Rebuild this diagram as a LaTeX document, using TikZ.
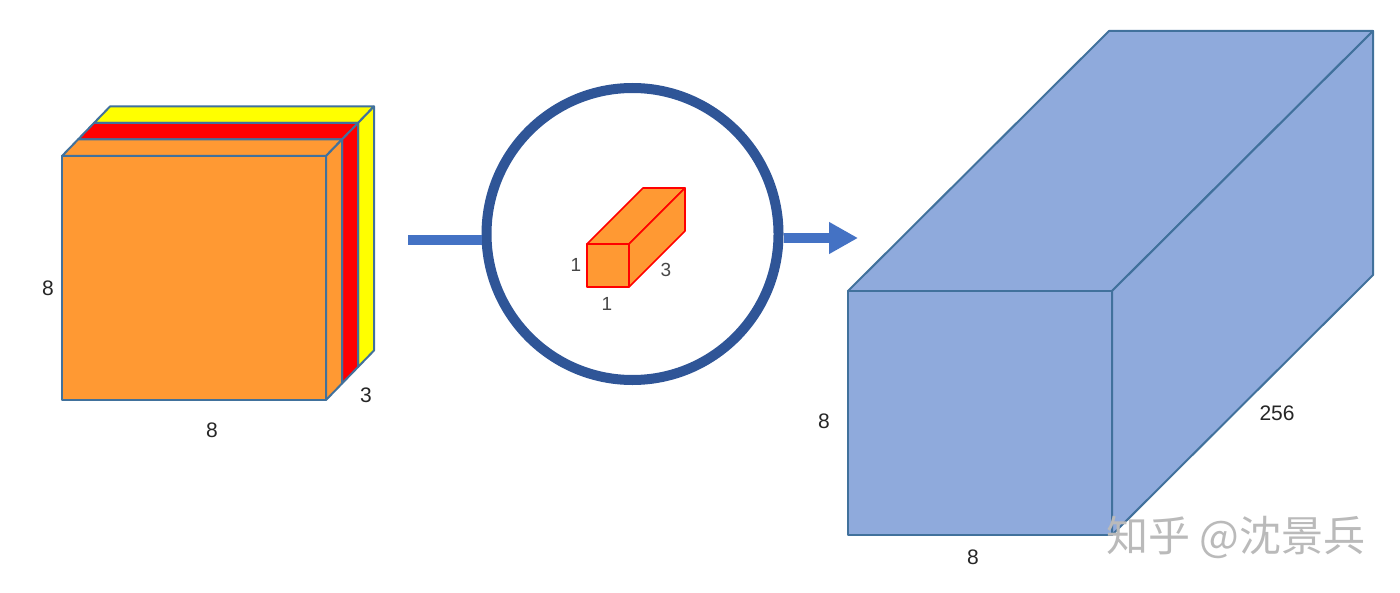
\documentclass[tikz,border=0pt]{standalone}
\usepackage{fontspec}
\setmainfont{Liberation Sans}
\newfontfamily\cjk{Noto Sans CJK SC}
\usetikzlibrary{arrows.meta}
\definecolor{edgeblue}{HTML}{41719C}
\definecolor{ringblue}{HTML}{2F5597}
\definecolor{arrowblue}{HTML}{4472C4}
\definecolor{boxblue}{HTML}{8FAADC}
\definecolor{slaborange}{HTML}{FF9933}
\definecolor{slabred}{HTML}{FF0000}
\definecolor{slabyellow}{HTML}{FFFF00}
\definecolor{labelgray}{HTML}{262626}
\tikzset{
  face/.style={line width=1pt, draw=edgeblue, line join=round},
  smallface/.style={line width=0.8pt, draw=red, fill=slaborange, line join=round},
  dimlabel/.style={text=labelgray, font=\fontsize{10.5}{12}\selectfont, inner sep=0pt},
  smalllabel/.style={text=labelgray!85, font=\fontsize{9.5}{11}\selectfont, inner sep=0pt},
  flowline/.style={draw=arrowblue, line width=5pt},
  ring/.style={circle, draw=ringblue, line width=5pt, minimum size=146pt, inner sep=0pt},
  watermark/.style={text=black!27, font=\cjk\fontsize{21}{24}\selectfont, inner sep=0pt}
}
\begin{document}
\begin{tikzpicture}[x=0.5pt,y=-0.5pt]
\useasboundingbox (0,0) rectangle (1400,593);
% ---- left input: three stacked slabs (yellow, red, orange) ----
% yellow (back)
\draw[face, fill=slabyellow] (94,123) -- (110,106.5) -- (374,106.5) -- (358,123) -- cycle;
\draw[face, fill=slabyellow] (358,123) -- (374,106.5) -- (374,350.5) -- (358,367) -- cycle;
% red (middle)
\draw[face, fill=slabred] (78,139.5) -- (94,123) -- (358,123) -- (342,139.5) -- cycle;
\draw[face, fill=slabred] (342,139.5) -- (358,123) -- (358,367) -- (342,383.5) -- cycle;
% orange (front)
\draw[face, fill=slaborange] (62,156) -- (78,139.5) -- (342,139.5) -- (326,156) -- cycle;
\draw[face, fill=slaborange] (326,156) -- (342,139.5) -- (342,383.5) -- (326,400) -- cycle;
\draw[face, fill=slaborange] (62,156) rectangle (326,400);
\node[dimlabel] (l8a) at (48,288) {8};
\node[dimlabel] (l8b) at (212,430) {8};
\node[dimlabel] (l3) at (366,395) {3};
% ---- middle: 1x1x3 kernel in a ring ----
\node[ring] (kernel) at (632.5,234) {};
\draw[smallface] (587,244) -- (643,188) -- (685,188) -- (629,244) -- cycle;
\draw[smallface] (629,244) -- (685,188) -- (685,231) -- (629,287) -- cycle;
\draw[smallface] (587,244) rectangle (629,287);
\node[smalllabel] (k1a) at (576,265) {1};
\node[smalllabel] (k3) at (666,270) {3};
\node[smalllabel] (k1b) at (607,304) {1};
% ---- connectors ----
\coordinate (inStart) at (408,240);
\coordinate (outEnd) at (858,238);
\draw[flowline] (inStart) -- (inStart -| kernel.west);
\draw[flowline, -{Triangle[length=14.5pt,width=15pt]}] (kernel.east |- outEnd) -- (outEnd);
% ---- right output block 8x8x256 ----
\draw[face, fill=boxblue] (848,291) -- (1109,31) -- (1373,31) -- (1112,291) -- cycle;
\draw[face, fill=boxblue] (1112,291) -- (1373,31) -- (1373,275) -- (1112,535) -- cycle;
\draw[face, fill=boxblue] (848,291) rectangle (1112,535);
\node[dimlabel] (r8a) at (824,421) {8};
\node[dimlabel] (r8b) at (973,557) {8};
\node[dimlabel] (r256) at (1277,413) {256};
% ---- watermark ----
\node[watermark] (wm) at (1236,537) {知乎 @沈景兵};
\end{tikzpicture}
\end{document}
